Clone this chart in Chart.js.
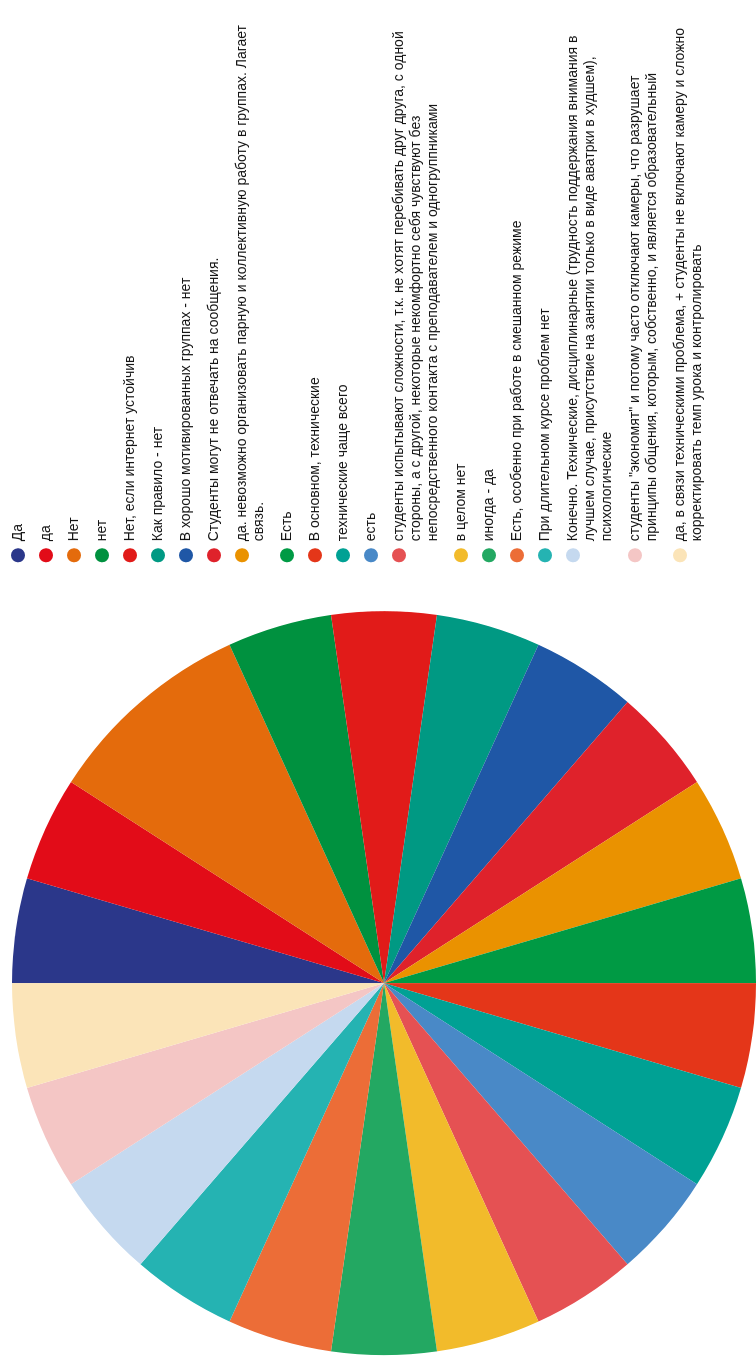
<!DOCTYPE html>
<html lang="ru">
<head>
<meta charset="utf-8">
<title>Pie</title>
<script src="https://cdn.jsdelivr.net/npm/chart.js@4/dist/chart.umd.min.js"></script>
<style>
  html, body { margin: 0; padding: 0; background: #fff; overflow: hidden; width: 756px; height: 1364px; }
  /* chart is drawn landscape and turned to portrait */
  #wrap { position: absolute; left: 0; top: 0; width: 1393px; height: 756px;
          transform-origin: 0 0; transform: translateY(1393px) rotate(-90deg); }
</style>
</head>
<body>
<div id="wrap"><canvas id="pie" width="1393" height="756"></canvas></div>
<script>
const answers = [
  ['Да'],
  ['да'],
  ['Нет'],
  ['нет'],
  ['Нет, если интернет устойчив'],
  ['Как правило - нет'],
  ['В хорошо мотивированных группах - нет'],
  ['Студенты могут не отвечать на сообщения.'],
  ['да. невозможно организовать парную и коллективную работу в группах. Лагает', 'связь.'],
  ['Есть'],
  ['В основном, технические'],
  ['технические чаще всего'],
  ['есть'],
  ['студенты испытывают сложности, т.к. не хотят перебивать друг друга, с одной',
   'стороны, а с другой, некоторые некомфортно себя чувствуют без',
   'непосредственного контакта с преподавателем и одногруппниками'],
  ['в целом нет'],
  ['иногда - да'],
  ['Есть, особенно при работе в смешанном режиме'],
  ['При длительном курсе проблем нет'],
  ['Конечно. Технические, дисциплинарные (трудность поддержания внимания в',
   'лучшем случае, присутствие на занятии только в виде аватрки в худшем),',
   'психологические'],
  ['студенты "экономят" и потому часто отключают камеры, что разрушает',
   'принципы общения, которым, собственно, и является образовательный'],
  ['да, в связи техническими проблема, + студенты не включают камеру и сложно',
   'корректировать темп урока и контролировать']
];

const counts = [1, 1, 2, 1, 1, 1, 1, 1, 1, 1, 1, 1, 1, 1, 1, 1, 1, 1, 1, 1, 1];

const colors = [
  '#2b378a', '#e20c18', '#e46b0c', '#00913f', '#e11b19', '#009983', '#1f57a6',
  '#df222b', '#ea9200', '#009a44', '#e43619', '#00a194', '#4989c7', '#e55153',
  '#f2bb2b', '#23a862', '#ec6d37', '#25b3b2', '#c5d9ef', '#f4c6c5', '#fbe4b8'
];

// legend sits a bit higher than the pie
const legendShift = {
  id: 'legendShift',
  afterLayout(chart) {
    chart.legend.top -= 12;
    chart.legend.bottom -= 12;
  }
};

new Chart(document.getElementById('pie'), {
  type: 'pie',
  data: {
    labels: answers,
    datasets: [{
      data: counts,
      backgroundColor: colors,
      borderWidth: 0
    }]
  },
  options: {
    responsive: false,
    animation: false,
    layout: { padding: { top: 12, right: 15 } },
    plugins: {
      tooltip: { enabled: false },
      legend: {
        position: 'right',
        align: 'start',
        maxWidth: 575,
        labels: {
          usePointStyle: true,
          pointStyle: 'circle',
          boxWidth: 14,
          boxHeight: 10,
          padding: 11,
          color: '#161616',
          font: { family: 'Liberation Sans', size: 14, lineHeight: '17px' }
        }
      }
    }
  },
  plugins: [legendShift]
});
</script>
</body>
</html>
